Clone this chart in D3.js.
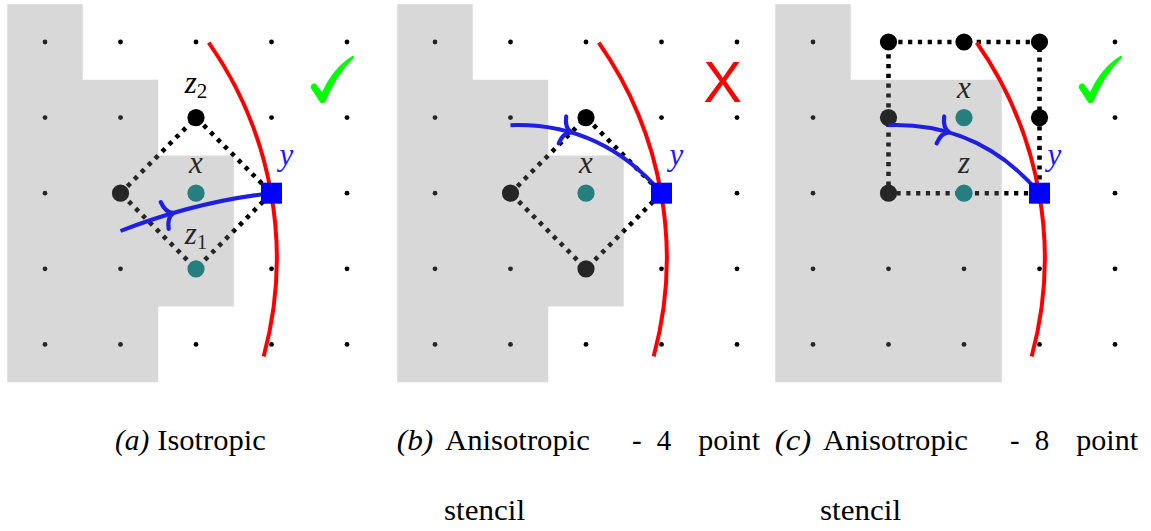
<!DOCTYPE html>
<html>
<head>
<meta charset="utf-8">
<script src="https://cdn.jsdelivr.net/npm/d3@7"></script>
<style>
  html, body { margin: 0; padding: 0; background: #fff; }
  svg { display: block; }
</style>
</head>
<body>
<svg id="fig" width="1151" height="531"></svg>
<script>
// ---------------- data (grid units) ----------------
const gridIdx = [0, 1, 2, 3, 4];
const panelIds = ["a", "b", "c"];
const verdicts = ["check", "cross", "check"];
const interfacePt = [3, 2];

// solid (shaded) cells, as outline polygons
const shadeAB = [[-0.5,-0.5],[0.5,-0.5],[0.5,0.5],[1.5,0.5],[1.5,1.5],[2.5,1.5],[2.5,3.5],[1.5,3.5],[1.5,4.5],[-0.5,4.5]];
const shadeC  = [[-0.5,-0.5],[0.5,-0.5],[0.5,0.5],[2.5,0.5],[2.5,4.5],[-0.5,4.5]];

// stencil outlines
const stencilDiamond = [[1,2],[2,1],[3,2],[2,3],[1,2]];
const stencilBox     = [[1,0],[3,0],[3,2],[1,2],[1,0]];

// stencil nodes: kind "s" = stencil point, "i" = interior point
const nodesA = [
  {gx: 1, gy: 2, kind: "s"},
  {gx: 2, gy: 1, kind: "s", label: "z", sub: "2"},
  {gx: 2, gy: 2, kind: "i", label: "x"},
  {gx: 2, gy: 3, kind: "i", label: "z", sub: "1"}
];
const nodesB = [
  {gx: 1, gy: 2, kind: "s"},
  {gx: 2, gy: 1, kind: "s"},
  {gx: 2, gy: 2, kind: "i", label: "x"},
  {gx: 2, gy: 3, kind: "s"}
];
const nodesC = [
  {gx: 1, gy: 0, kind: "s"},
  {gx: 2, gy: 0, kind: "s"},
  {gx: 3, gy: 0, kind: "s"},
  {gx: 1, gy: 1, kind: "s"},
  {gx: 3, gy: 1, kind: "s"},
  {gx: 1, gy: 2, kind: "s"},
  {gx: 2, gy: 1, kind: "i", label: "x"},
  {gx: 2, gy: 2, kind: "i", label: "z"}
];

// characteristic curves (quadratic: start, control, end)
const charA  = [[1, 2.5], [2, 2.11], [3, 2]];
const charBC = [[1, 1.1], [2.2, 1.06], [3, 2]];

// front (circular arc)
const frontCenter = [-1.9, 2.86];
const frontRadius = 4.97;
const frontAngles = [-35.05, 15.2];   // degrees

// verdict mark anchors (grid units)
const checkAnchor = [3.67, 0.79];
const crossAnchor = [3.81, 0.51];

// captions
const captionTags  = ["a", "b", "c"];
const captionWords = [["Isotropic"], ["Anisotropic", "-", "4", "point"], ["Anisotropic", "-", "8", "point"]];
const captionSecond = [null, "stencil", "stencil"];

// ---------------- fonts ----------------
// use the first installed serif face, detected by comparing text widths
function pickFont(cands, fallback) {
  const ctx = document.createElement("canvas").getContext("2d");
  const s = "Anisotropic stencil (a) xyz 0123 WMi";
  const width = f => { ctx.font = "40px " + f; return ctx.measureText(s).width; };
  const bases = ["monospace", "sans-serif"];
  const ref = bases.map(width);
  for (const f of cands) {
    if (bases.some((b, k) => Math.abs(width(`"${f}", ${b}`) - ref[k]) > 0.01)) return `"${f}", serif`;
  }
  return fallback;
}
const serif = pickFont(
  ["Liberation Serif", "DejaVu Serif", "Noto Serif", "Tinos", "Times New Roman", "Times",
   "Nimbus Roman", "Nimbus Roman No9 L", "FreeSerif", "Latin Modern Roman", "CMU Serif",
   "Noto Serif CJK SC", "Source Serif Pro", "Georgia"],
  "serif");

// ---------------- layout ----------------
const svg = d3.select("#fig");
const originX = [45, 435, 813];
const topY = 42, stepX = 75.5, stepY = 75.6;

const panelData = [
  {shade: shadeAB, stencil: stencilDiamond, nodes: nodesA, curve: charA},
  {shade: shadeAB, stencil: stencilDiamond, nodes: nodesB, curve: charBC},
  {shade: shadeC,  stencil: stencilBox,     nodes: nodesC, curve: charBC}
];

panelIds.forEach((pid, i) => {
  const P = panelData[i];
  const x = d3.scaleLinear().domain([0, 4]).range([originX[i], originX[i] + 4 * stepX]);
  const y = d3.scaleLinear().domain([0, 4]).range([topY, topY + 4 * stepY]);
  const g = svg.append("g").attr("class", "panel-" + pid);

  // background lattice
  const lattice = d3.cross(gridIdx, gridIdx);
  g.append("g").selectAll("circle").data(lattice).join("circle")
    .attr("cx", d => x(d[0])).attr("cy", d => y(d[1]))
    .attr("r", 2.4).attr("fill", "#000");

  // stencil outline
  const line = d3.line().x(d => x(d[0])).y(d => y(d[1]));
  g.append("path").attr("d", line(P.stencil))
    .attr("fill", "none").attr("stroke", "#000")
    .attr("stroke-width", 4.6).attr("stroke-dasharray", "4.2 5.6");

  // stencil nodes
  g.append("g").selectAll("circle").data(P.nodes).join("circle")
    .attr("cx", d => x(d.gx)).attr("cy", d => y(d.gy))
    .attr("r", 8.6).attr("fill", d => d.kind === "i" ? "#008080" : "#000");

  // node labels
  const labs = g.append("g").selectAll("text").data(P.nodes.filter(d => d.label)).join("text")
    .attr("x", d => x(d.gx))
    .attr("y", d => y(d.gy) - (d.sub ? 24.5 : 20))
    .attr("text-anchor", "middle")
    .style("font-family", serif).attr("font-size", 31).attr("font-style", "italic")
    .attr("fill", "#000");
  labs.append("tspan").text(d => d.label);
  labs.filter(d => d.sub).append("tspan")
    .attr("dy", 5).attr("font-size", 21).attr("font-style", "normal")
    .text(d => d.sub);

  // shaded solid region (translucent, on top of the lattice)
  g.append("path")
    .attr("d", line(P.shade) + "Z")
    .attr("fill", "rgb(127,127,127)").attr("fill-opacity", 0.3);

  // characteristic curve with mid arrow
  const c = P.curve;
  const qp = d3.path();
  qp.moveTo(x(c[0][0]), y(c[0][1]));
  qp.quadraticCurveTo(x(c[1][0]), y(c[1][1]), x(c[2][0]), y(c[2][1]));
  const curve = g.append("path").attr("d", qp.toString())
    .attr("fill", "none").attr("stroke", "#1f1fe0").attr("stroke-width", 4);
  const node = curve.node();
  const L = node.getTotalLength();
  const at = L * 0.345;
  const p0 = node.getPointAtLength(at - 1), p1 = node.getPointAtLength(at + 1);
  const tip = node.getPointAtLength(at);
  const ang = Math.atan2(p1.y - p0.y, p1.x - p0.x) * 180 / Math.PI;
  g.append("path")
    .attr("d", "M-7,-14 Q-5.5,-2.5 2,0 Q-5.5,2.5 -7,14")
    .attr("transform", `translate(${tip.x},${tip.y}) rotate(${ang})`)
    .attr("fill", "none").attr("stroke", "#1f1fe0").attr("stroke-width", 4.2)
    .attr("stroke-linecap", "round").attr("stroke-linejoin", "round");

  // front arc
  const k = x(1) - x(0);
  const ap = d3.path();
  ap.arc(x(frontCenter[0]), y(frontCenter[1]), frontRadius * k,
         frontAngles[0] * Math.PI / 180, frontAngles[1] * Math.PI / 180, false);
  g.append("path").attr("d", ap.toString())
    .attr("fill", "none").attr("stroke", "#ff0000").attr("stroke-width", 4);

  // interface point y
  const side = 21;
  g.append("rect")
    .attr("x", x(interfacePt[0]) - side / 2).attr("y", y(interfacePt[1]) - side / 2)
    .attr("width", side).attr("height", side).attr("fill", "#0000ff");
  g.append("text")
    .attr("x", x(interfacePt[0]) + 15).attr("y", y(interfacePt[1]) - 28)
    .attr("text-anchor", "middle")
    .style("font-family", serif).attr("font-size", 31).attr("font-style", "italic")
    .attr("fill", "#1a1aff").text("y");

  // verdict mark
  if (verdicts[i] === "check") {
    g.append("path")
      .attr("d", "M-11.5,-14 Q-11,-19 -6.5,-18 L0,-9.5 Q11,-34 30.5,-46 Q32.5,-45.5 31.5,-43.5 Q15,-28 3,0.5 Q0,2.5 -2,0.5 Z")
      .attr("transform", `translate(${x(checkAnchor[0])},${y(checkAnchor[1])})`)
      .attr("fill", "#00ff00");
  } else {
    g.append("text")
      .attr("x", x(crossAnchor[0])).attr("y", y(crossAnchor[1]) + 21)
      .attr("text-anchor", "middle")
      .style("font-family", "Liberation Sans, Arial, sans-serif").attr("font-size", 58)
      .attr("fill", "#ff0000").text("X");
  }
});

// ---------------- captions ----------------
// word placement: [start x, advance width] per word, first entry is the tag
const capLayout = [
  [[115, 34.3], [157.3, 108.4]],
  [[396.7, 36.6], [445, 145], [633, 7.5], [658, 12], [698.3, 61.7]],
  [[774.7, 36.6], [823, 145], [1011, 7.5], [1036, 12], [1076.3, 61.7]]
];
const capSecondX = [null, [444, 81], [820, 81]];
const capBase1 = 450, capBase2 = 520;

captionTags.forEach((t, i) => {
  const cg = svg.append("g").style("font-family", serif).attr("font-size", 29).attr("fill", "#000");
  const lay = capLayout[i];
  cg.append("text")
    .attr("x", lay[0][0]).attr("y", capBase1)
    .attr("font-style", "italic")
    .attr("textLength", lay[0][1]).attr("lengthAdjust", "spacingAndGlyphs")
    .text("(" + t + ")");
  captionWords[i].forEach((w, j) => {
    const [wx, ww] = lay[j + 1];
    const tx = cg.append("text").attr("y", capBase1).text(w);
    if (w.length > 1) {
      tx.attr("x", wx).attr("textLength", ww).attr("lengthAdjust", "spacingAndGlyphs");
    } else {
      tx.attr("x", wx + ww / 2).attr("text-anchor", "middle");
    }
  });
  if (captionSecond[i]) {
    cg.append("text")
      .attr("x", capSecondX[i][0]).attr("y", capBase2)
      .attr("textLength", capSecondX[i][1]).attr("lengthAdjust", "spacingAndGlyphs")
      .text(captionSecond[i]);
  }
});
</script>
</body>
</html>
